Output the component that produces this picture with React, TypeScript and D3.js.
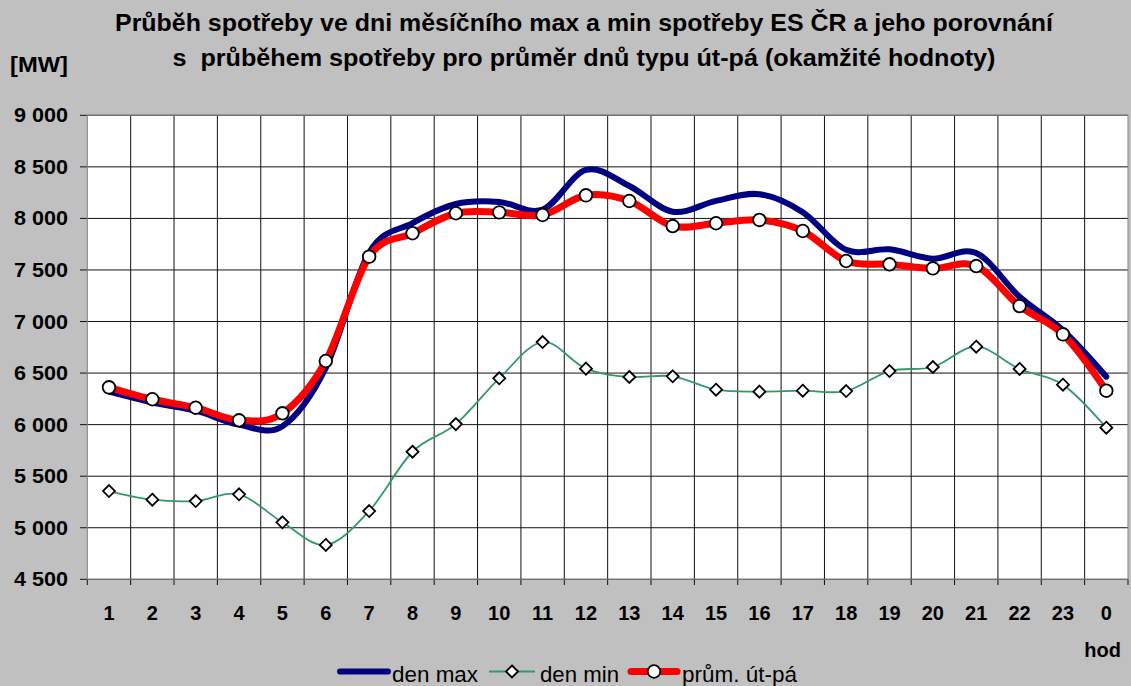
import React from "react";
import * as d3 from "d3";

const categories = ["1","2","3","4","5","6","7","8","9","10","11","12","13","14","15","16","17","18","19","20","21","22","23","0"];
const denMax = [6320,6215,6135,6000,5985,6550,7670,7955,8140,8160,8085,8470,8315,8065,8170,8235,8060,7695,7700,7610,7665,7240,6915,6465];
const denMin = [5356,5272,5259,5324,5053,4833,5162,5737,6005,6449,6801,6543,6462,6469,6339,6320,6329,6326,6520,6559,6756,6540,6387,5970];
const prumUtPa = [6362,6246,6164,6042,6110,6617,7629,7856,8050,8059,8033,8224,8169,7926,7953,7985,7878,7587,7555,7516,7538,7150,6876,6329];
const yTicks = [4500,5000,5500,6000,6500,7000,7500,8000,8500,9000];
const title1 = "Průběh spotřeby ve dni měsíčního max a min spotřeby ES ČR a jeho porovnání";
const title2 = "s  průběhem spotřeby pro průměr dnů typu út-pá (okamžité hodnoty)";

const W = 1131, H = 686;
const L = 87.3, R = 1128, T = 115.3, B = 579.3;

export default function App() {
  const x = d3.scaleBand<string>().domain(categories).range([L, R]).padding(0);
  const y = d3.scaleLinear().domain([4500, 9000]).range([B, T]);
  const cx = (i: number) => (x(categories[i]) as number) + x.bandwidth() / 2;
  const line = d3.line<number>().x((_, i) => cx(i)).y((v) => y(v)).curve(d3.curveCardinal.tension(0));
  const fmt = (v: number) => d3.format(",")(v).replace(/,/g, " ");
  const font = "'Liberation Sans', Arial, sans-serif";
  const bounds = d3.range(categories.length + 1).map((i) => L + i * x.bandwidth());
  const diamond = (px: number, py: number, r: number) => `M${px},${py - r}L${px + r},${py}L${px},${py + r}L${px - r},${py}Z`;

  return (
    <svg width={W} height={H} style={{ position: "absolute", left: 0, top: 0 }} fontFamily={font}>
      <rect x={0} y={0} width={W} height={H} fill="#C0C0C0" />
      <text x={584} y={31} textAnchor="middle" fontWeight="bold" fontSize={23} textLength={938} lengthAdjust="spacingAndGlyphs">{title1}</text>
      <text x={584} y={66} textAnchor="middle" fontWeight="bold" fontSize={23} textLength={823} lengthAdjust="spacingAndGlyphs" style={{ whiteSpace: "pre" }}>{title2}</text>
      <text x={10} y={72} fontWeight="bold" fontSize={22} textLength={58} lengthAdjust="spacingAndGlyphs">[MW]</text>

      <rect x={L} y={T} width={R - L} height={B - T} fill="#fff" />
      {yTicks.map((t) => (
        <g key={"y" + t}>
          <line x1={L} x2={R} y1={y(t)} y2={y(t)} stroke="#111" strokeWidth={1} />
          <line x1={80} x2={L} y1={y(t)} y2={y(t)} stroke="#111" strokeWidth={1} />
          <text x={68} y={y(t) + 7} textAnchor="end" fontWeight="bold" fontSize={20} textLength={54} lengthAdjust="spacingAndGlyphs">{fmt(t)}</text>
        </g>
      ))}
      {bounds.map((bx, i) => (
        <g key={"x" + i}>
          {i > 0 && i < categories.length && <line x1={bx} x2={bx} y1={T} y2={B} stroke="#111" strokeWidth={1} />}
          <line x1={bx} x2={bx} y1={B} y2={585} stroke="#111" strokeWidth={1} />
        </g>
      ))}
      <rect x={L} y={T} width={R - L} height={B - T} fill="none" stroke="#808080" strokeWidth={1} />
      {categories.map((c, i) => (
        <text key={"xl" + c} x={cx(i)} y={620} textAnchor="middle" fontWeight="bold" fontSize={20}>{c}</text>
      ))}
      <text x={1121} y={657} textAnchor="end" fontWeight="bold" fontSize={20}>hod</text>

      <path d={line(denMin) as string} fill="none" stroke="#339966" strokeWidth={1.8} />
      <path d={line(denMax) as string} fill="none" stroke="#000080" strokeWidth={6} strokeLinecap="round" />
      <path d={line(prumUtPa) as string} fill="none" stroke="#FF0000" strokeWidth={7} strokeLinecap="round" />
      {denMin.map((v, i) => (
        <path key={"dm" + i} d={diamond(cx(i), y(v), 6)} fill="#fff" stroke="#000" strokeWidth={1.8} />
      ))}
      {prumUtPa.map((v, i) => (
        <circle key={"pc" + i} cx={cx(i)} cy={y(v)} r={6.3} fill="#fff" stroke="#000" strokeWidth={1.8} />
      ))}

      <g>
        <line x1={340} x2={388} y1={671.5} y2={671.5} stroke="#000080" strokeWidth={6} strokeLinecap="round" />
        <text x={392} y={682} fontSize={22} textLength={86} lengthAdjust="spacingAndGlyphs">den max</text>
        <line x1={489} x2={535} y1={671.5} y2={671.5} stroke="#339966" strokeWidth={1.8} />
        <path d={diamond(512, 671.5, 6)} fill="#fff" stroke="#000" strokeWidth={1.8} />
        <text x={540} y={682} fontSize={22} textLength={79} lengthAdjust="spacingAndGlyphs">den min</text>
        <line x1={631} x2={677} y1={671.5} y2={671.5} stroke="#FF0000" strokeWidth={7} strokeLinecap="round" />
        <circle cx={654} cy={671.5} r={6.3} fill="#fff" stroke="#000" strokeWidth={1.8} />
        <text x={682} y={682} fontSize={22} textLength={115} lengthAdjust="spacingAndGlyphs">prům. út-pá</text>
      </g>
    </svg>
  );
}
